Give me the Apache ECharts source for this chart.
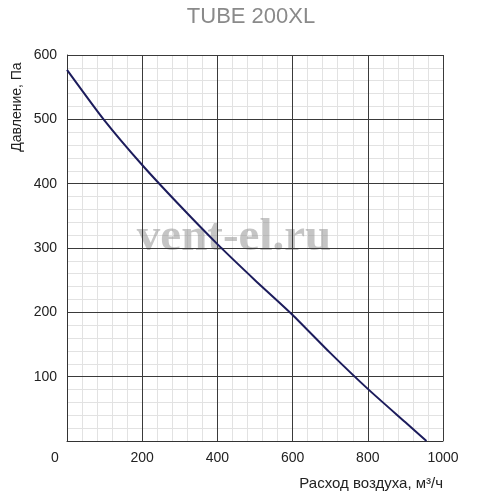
<!DOCTYPE html>
<html>
<head>
<meta charset="utf-8">
<script src="https://cdn.jsdelivr.net/npm/echarts@6/dist/echarts.min.js"></script>
<style>html,body{margin:0;padding:0;background:#fff}#chart{width:500px;height:500px}</style>
</head>
<body>
<div id="chart"></div>
<script>
// Data
const flowValues = [0, 100, 200, 300, 400, 500, 600, 700, 800, 900, 956];
const pressureValues = [577, 498, 429, 366, 306, 250, 196, 137, 81, 29, 0];
const xTicks = [0, 200, 400, 600, 800, 1000];
const yTicks = [100, 200, 300, 400, 500, 600];
const titleText = 'TUBE 200XL';
const xName = 'Расход воздуха, м³/ч';
const yName = 'Давление, Па';
const watermark = 'vent-el.ru';

const points = flowValues.map((x, i) => [x, pressureValues[i]]);
const FONT = '"Liberation Sans", Arial, Helvetica, sans-serif';
const xMax = xTicks[xTicks.length - 1];
const yMax = yTicks[yTicks.length - 1];

const minorAxis = (extra) => Object.assign({
  type: 'value', z: 0,
  axisLine: {show: false}, axisTick: {show: false}, axisLabel: {show: false},
  splitLine: {show: true, lineStyle: {color: '#e2e2e2', width: 1}}
}, extra);

const chart = echarts.init(document.getElementById('chart'), null, {renderer: 'canvas'});
chart.setOption({
  animation: false,
  backgroundColor: '#fff',
  title: {
    text: titleText,
    left: 246, top: 1, textAlign: 'center',
    textStyle: {fontFamily: FONT, fontSize: 22, fontWeight: 'normal', color: '#8a8a8a'}
  },
  grid: {left: 67, right: 57, top: 55, bottom: 59, containLabel: false},
  xAxis: [{
    type: 'value', min: 0, max: xMax, interval: 200, z: 2,
    name: xName, nameLocation: 'end', nameGap: 0,
    nameTextStyle: {fontFamily: FONT, fontSize: 15, color: '#222', align: 'right', verticalAlign: 'top', padding: [35, 0, 0, 0]},
    axisLine: {show: true, lineStyle: {color: '#333', width: 1}},
    axisTick: {show: false},
    axisLabel: {
      fontFamily: FONT, fontSize: 14, color: '#222', margin: 10,
      formatter: v => v === 0 ? '{z|0}' : (xTicks.includes(v) ? String(v) : ''),
      rich: {z: {fontFamily: FONT, fontSize: 14, color: '#222', padding: [0, 24, 0, 0]}}
    },
    splitLine: {show: true, lineStyle: {color: '#3a3a3a', width: 1}}
  }, minorAxis({min: 0, max: xMax, interval: 40, position: 'top'})],
  yAxis: [{
    type: 'value', min: 0, max: yMax, interval: 100, z: 2,
    axisLine: {show: true, lineStyle: {color: '#333', width: 1}},
    axisTick: {show: false},
    axisLabel: {
      fontFamily: FONT, fontSize: 14, color: '#222', margin: 10,
      formatter: v => yTicks.includes(v) ? String(v) : ''
    },
    splitLine: {show: true, lineStyle: {color: '#3a3a3a', width: 1}}
  }, minorAxis({min: 0, max: yMax, interval: 20, position: 'right'})],
  graphic: [
    {
      type: 'text', x: 17, y: 107, rotation: Math.PI / 2, z: 10,
      style: {text: yName, fontFamily: FONT, fontSize: 14, fill: '#222', align: 'center', verticalAlign: 'middle'}
    },
    {
      type: 'text', x: 234, y: 238, z: 1,
      style: {text: watermark, fontFamily: '"Liberation Serif", "DejaVu Serif", serif', fontWeight: 'bold', fontSize: 47, fill: 'rgba(150,150,150,0.55)', align: 'center', verticalAlign: 'middle'}
    }
  ],
  series: [{
    type: 'line', data: points, smooth: 0.2, symbol: 'none', z: 3,
    xAxisIndex: 0, yAxisIndex: 0,
    lineStyle: {color: '#1c1c5c', width: 2}
  }]
});
</script>
</body>
</html>
